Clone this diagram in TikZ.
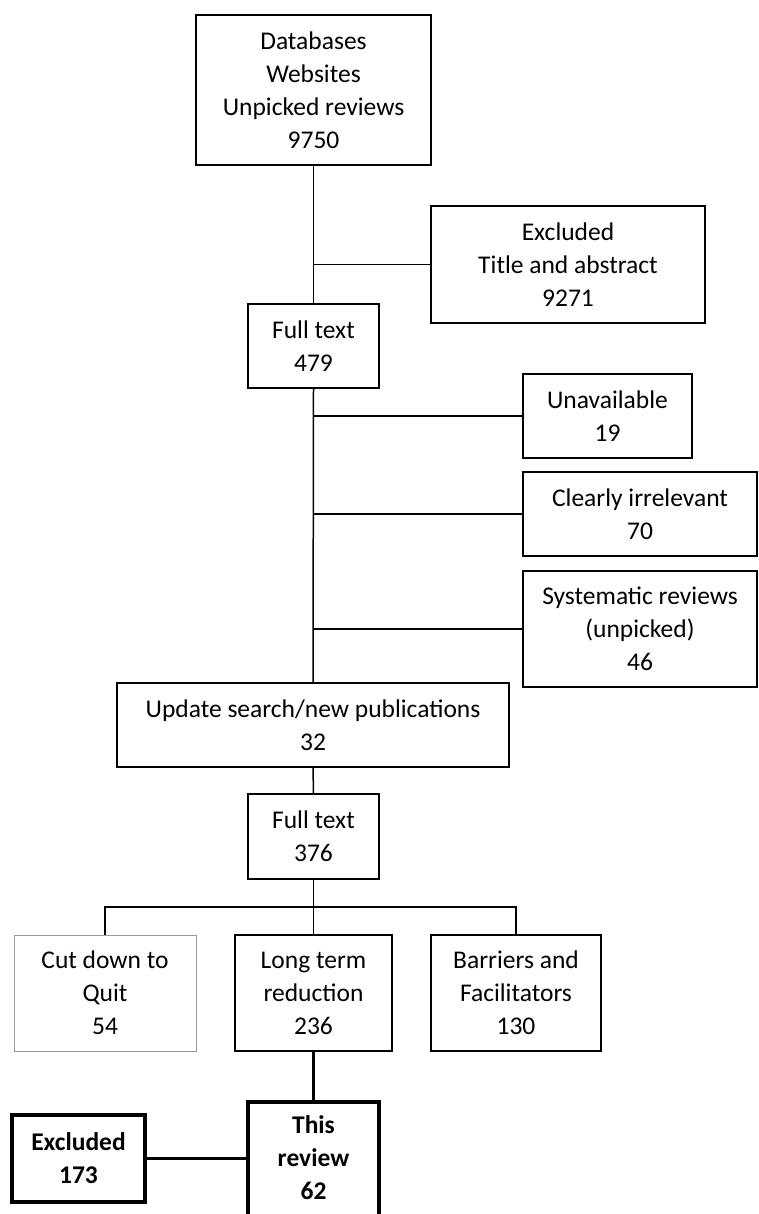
\documentclass[tikz,border=0pt]{standalone}
\usepackage{fontspec}
\setmainfont{Carlito}
\begin{document}
\begin{tikzpicture}[x=1pt,y=-1pt,
  box/.style={draw=black,line width=1.5pt,align=center,inner sep=0pt,font=\fontsize{25.5}{33}\selectfont},
  thickbox/.style={box,line width=4.5pt,font=\fontsize{25.5}{33}\selectfont\bfseries},
  link/.style={draw=black,line width=1.5pt},
  thicklink/.style={draw=black,line width=3pt}]
\useasboundingbox (0,0) rectangle (758,1214);
\clip (0,0) rectangle (758,1214);
\node[box,minimum width=235pt,minimum height=150pt] (top) at (313.5,90) {Databases\\Websites\\Unpicked reviews\\9750};
\node[box,minimum width=274pt,minimum height=117pt] (excl1) at (568,264.5) {Excluded\\Title and abstract\\9271};
\node[box,minimum width=131pt,minimum height=84pt] (ft1) at (313.5,346) {Full text\\479};
\node[box,minimum width=169pt,minimum height=84pt] (unav) at (607.5,416) {Unavailable\\19};
\node[box,minimum width=234pt,minimum height=84pt] (irr) at (640,514) {Clearly irrelevant\\70};
\node[box,minimum width=234pt,minimum height=116pt] (sys) at (640,629) {Systematic reviews\\(unpicked)\\46};
\node[box,minimum width=392pt,minimum height=84pt] (upd) at (313,725) {Update search/new publications\\32};
\node[box,minimum width=131pt,minimum height=85pt] (ft2) at (313.5,836.5) {Full text\\376};
\node[box,draw=black!40,line width=0.9pt,minimum width=182pt,minimum height=116pt] (cut) at (105,993) {Cut down to\\Quit\\54};
\node[box,minimum width=157pt,minimum height=116pt] (lt) at (313.5,993) {Long term\\reduction\\236};
\node[box,minimum width=170pt,minimum height=116pt] (bar) at (516,993) {Barriers and\\Facilitators\\130};
\node[thickbox,minimum width=131pt,minimum height=150pt] (rev) at (313.5,1177) {};
\node[font=\fontsize{25.5}{33}\selectfont\bfseries,align=center,anchor=north,inner sep=0pt] (revtxt) at (313.5,1115) {This\\review\\62};
\node[thickbox,minimum width=133pt,minimum height=87pt] (excl2) at (78.5,1158.5) {Excluded\\173};
\coordinate (bus) at (313.5,907);
\path[link] (top.south) -- (ft1.north);
\path[link] (ft1.south) -- (upd.north);
\path[link] (top.south |- excl1.west) -- (excl1.west);
\path[link] (top.south |- unav.west) -- (unav.west);
\path[link] (top.south |- irr.west) -- (irr.west);
\path[link] (top.south |- sys.west) -- (sys.west);
\path[link] (upd.south) -- (ft2.north);
\path[link] (ft2.south) -- (lt.north);
\path[link] (cut.north) -- (cut.north |- bus) -- (bar.north |- bus) -- (bar.north);
\path[thicklink] (lt.south) -- (rev.north);
\path[thicklink] (excl2.east) -- (rev.west |- excl2.east);
\end{tikzpicture}
\end{document}
